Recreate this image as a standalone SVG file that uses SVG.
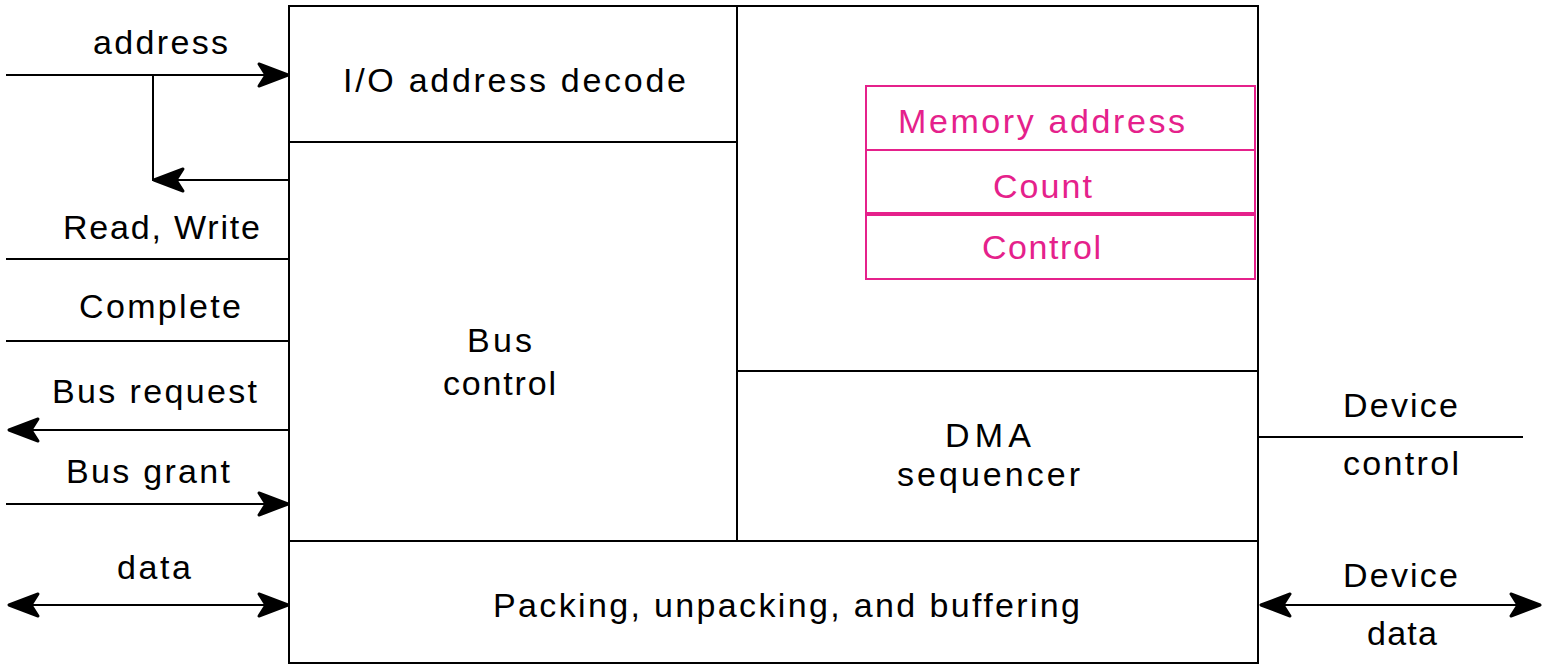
<svg xmlns="http://www.w3.org/2000/svg" width="1543" height="665" viewBox="0 0 1543 665">
<defs>
<style>
.ln{stroke:#000;stroke-width:2;fill:none}
.pk{stroke:#e5218b;stroke-width:2;fill:none}
.t{font-family:"Liberation Sans",Arial,sans-serif;font-size:34px;fill:#000}
.tp{font-family:"Liberation Sans",Arial,sans-serif;font-size:34px;fill:#e5218b}
</style>
<marker id="arr" markerUnits="userSpaceOnUse" viewBox="0 0 34 28" refX="33" refY="14" markerWidth="34" markerHeight="28" orient="auto-start-reverse">
<path d="M32,14 L3,3 L10,14 L3,25 Z" fill="#000" stroke="#000" stroke-width="3" stroke-linejoin="round"/>
</marker>
</defs>
<rect width="1543" height="665" fill="#fff"/>
<g id="outer"><rect class="ln" x="289" y="6" width="969" height="657"/></g>
<g id="io-decode">
<rect class="ln" x="289" y="6" width="448" height="136"/>
<text class="t" x="343" y="92" textLength="343" lengthAdjust="spacing">I/O address decode</text>
</g>
<g id="bus-control">
<rect class="ln" x="289" y="142" width="448" height="399"/>
<text class="t" x="467" y="352" textLength="65" lengthAdjust="spacing">Bus</text>
<text class="t" x="443" y="395" textLength="113" lengthAdjust="spacing">control</text>
</g>
<g id="registers">
<rect class="ln" x="737" y="6" width="521" height="365"/>
</g>
<g id="memory-address">
<rect class="pk" x="866" y="86" width="389" height="64"/>
<text class="tp" x="898" y="133" textLength="287" lengthAdjust="spacing">Memory address</text>
</g>
<g id="count">
<rect class="pk" x="866" y="150" width="389" height="63"/>
<text class="tp" x="993" y="198" textLength="99" lengthAdjust="spacing">Count</text>
</g>
<g id="control">
<rect class="pk" x="866" y="215" width="389" height="64"/>
<text class="tp" x="982" y="259" textLength="119" lengthAdjust="spacing">Control</text>
</g>
<g id="dma-sequencer">
<rect class="ln" x="737" y="371" width="521" height="170"/>
<text class="t" x="945" y="447" textLength="86" lengthAdjust="spacing">DMA</text>
<text class="t" x="897" y="486" textLength="183" lengthAdjust="spacing">sequencer</text>
</g>
<g id="packing">
<rect class="ln" x="289" y="541" width="969" height="122"/>
<text class="t" x="493" y="617" textLength="587" lengthAdjust="spacing">Packing, unpacking, and buffering</text>
</g>
<g id="connectors">
<line class="ln" x1="6" y1="75" x2="289" y2="75" marker-end="url(#arr)"/>
<line class="ln" x1="153" y1="75" x2="153" y2="181"/>
<line class="ln" x1="289" y1="180" x2="153" y2="180" marker-end="url(#arr)"/>
<line class="ln" x1="6" y1="259" x2="289" y2="259"/>
<line class="ln" x1="6" y1="341" x2="289" y2="341"/>
<line class="ln" x1="289" y1="430" x2="8" y2="430" marker-end="url(#arr)"/>
<line class="ln" x1="6" y1="504" x2="289" y2="504" marker-end="url(#arr)"/>
<line class="ln" x1="8" y1="605" x2="289" y2="605" marker-start="url(#arr)" marker-end="url(#arr)"/>
<line class="ln" x1="1258" y1="437" x2="1523" y2="437"/>
<line class="ln" x1="1260" y1="605" x2="1541" y2="605" marker-start="url(#arr)" marker-end="url(#arr)"/>
</g>
<g id="labels">
<text class="t" x="93" y="54" textLength="135" lengthAdjust="spacing">address</text>
<text class="t" x="63" y="239" textLength="197" lengthAdjust="spacing">Read, Write</text>
<text class="t" x="79" y="318" textLength="162" lengthAdjust="spacing">Complete</text>
<text class="t" x="52" y="403" textLength="205" lengthAdjust="spacing">Bus request</text>
<text class="t" x="66" y="483" textLength="164" lengthAdjust="spacing">Bus grant</text>
<text class="t" x="117" y="579" textLength="74" lengthAdjust="spacing">data</text>
<text class="t" x="1343" y="417" textLength="115" lengthAdjust="spacing">Device</text>
<text class="t" x="1343" y="475" textLength="116" lengthAdjust="spacing">control</text>
<text class="t" x="1343" y="587" textLength="115" lengthAdjust="spacing">Device</text>
<text class="t" x="1367" y="645" textLength="70" lengthAdjust="spacing">data</text>
</g>
</svg>
